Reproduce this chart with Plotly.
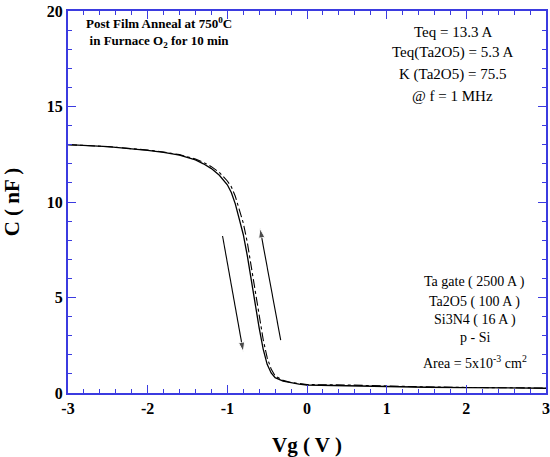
import plotly.graph_objects as go

# Forward (solid) sweep
vg_solid = [-3, -2.5, -2, -1.8, -1.6, -1.4, -1.3, -1.2, -1.1, -1.0, -0.95, -0.9, -0.85, -0.8,
            -0.75, -0.7, -0.65, -0.6, -0.55, -0.5, -0.45, -0.4, -0.3, -0.2, -0.1, 0,
            0.5, 1, 1.5, 2, 2.5, 3]
c_solid = [13.0, 12.9, 12.7, 12.6, 12.45, 12.2, 12.0, 11.75, 11.4, 10.9, 10.5, 9.9, 9.1, 8.3,
           7.2, 5.9, 4.6, 3.4, 2.3, 1.5, 1.05, 0.8, 0.62, 0.52, 0.46, 0.42,
           0.37, 0.33, 0.30, 0.28, 0.26, 0.25]

# Reverse (dash-dot) sweep
vg_dash = [-3, -2.5, -2, -1.8, -1.6, -1.4, -1.3, -1.2, -1.1, -1.0, -0.95, -0.9, -0.85, -0.8,
           -0.75, -0.7, -0.65, -0.6, -0.55, -0.5, -0.45, -0.4, -0.3, -0.2, -0.1, 0,
           0.5, 1, 1.5, 2, 2.5, 3]
c_dash = [13.0, 12.9, 12.72, 12.62, 12.48, 12.25, 12.08, 11.85, 11.55, 11.1, 10.8, 10.3, 9.6, 8.9,
          7.9, 6.6, 5.3, 4.0, 2.8, 1.85, 1.25, 0.9, 0.66, 0.55, 0.48, 0.44,
          0.42, 0.36, 0.32, 0.29, 0.27, 0.26]

# Sweep direction arrows (tail -> head)
arrow_down_x = [-1.06, -0.80]
arrow_down_y = [8.22, 2.16]
arrow_up_x = [-0.33, -0.59]
arrow_up_y = [2.77, 8.62]

x_ticks = [-3, -2, -1, 0, 1, 2, 3]
y_ticks = [0, 5, 10, 15, 20]

info_top = ["Teq = 13.3 A", "Teq(Ta2O5) = 5.3 A", "K (Ta2O5) = 75.5", "@ f = 1 MHz"]
info_bottom = ["Ta gate ( 2500 A )", "Ta2O5 ( 100 A )", "Si3N4 ( 16 A )", "p - Si",
               "Area = 5x10<sup>-3</sup> cm<sup>2</sup>"]

axis_blue = "#3b3be0"
serif = "Liberation Serif"


def tick_label(v):
    return '<span style="font-family:Liberation Serif"><b>%d</b></span>' % v


fig = go.Figure()
fig.add_trace(go.Scatter(x=vg_solid, y=c_solid, mode="lines",
                         line=dict(color="black", width=1.3), showlegend=False))
fig.add_trace(go.Scatter(x=vg_dash, y=c_dash, mode="lines",
                         line=dict(color="black", width=1.1, dash="dashdot"), showlegend=False))
for ax_, ay_ in ((arrow_down_x, arrow_down_y), (arrow_up_x, arrow_up_y)):
    fig.add_trace(go.Scatter(x=ax_, y=ay_, mode="lines+markers", showlegend=False,
                             line=dict(color="black", width=1.1),
                             marker=dict(symbol="arrow", angleref="previous", size=[0, 10], color="black")))

annotations = []
annotations.append(dict(x=0.19, y=0.945, xref="paper", yref="paper", showarrow=False, align="center",
                        xanchor="center", yanchor="middle",
                        text="<b>Post Film Anneal at 750<sup>0</sup>C<br>in Furnace O<sub>2</sub> for 10 min</b>",
                        font=dict(family=serif, size=13, color="black")))

top_y = [0.945, 0.892, 0.835, 0.777]
for txt, yy in zip(info_top, top_y):
    annotations.append(dict(x=0.805, y=yy, xref="paper", yref="paper", showarrow=False, text=txt,
                            xanchor="center", yanchor="middle",
                            font=dict(family=serif, size=15, color="black")))

bot_y = [0.291, 0.239, 0.191, 0.144, 0.08]
for txt, yy in zip(info_bottom, bot_y):
    annotations.append(dict(x=0.851, y=yy, xref="paper", yref="paper", showarrow=False, text=txt,
                            xanchor="center", yanchor="middle",
                            font=dict(family=serif, size=14, color="black")))

fig.update_layout(
    template="none",
    width=550, height=457,
    margin=dict(l=68, r=4, t=11, b=64),
    plot_bgcolor="white",
    annotations=annotations,
)

fig.update_xaxes(range=[-3, 3], tickvals=x_ticks, ticktext=[tick_label(v) for v in x_ticks],
                 ticklabeloverflow="allow",
                 showline=True, linecolor=axis_blue, linewidth=2, mirror="allticks",
                 ticks="inside", ticklen=8, tickwidth=1, tickcolor=axis_blue,
                 showgrid=False, zeroline=False,
                 tickfont=dict(size=16, color="black"),
                 minor=dict(dtick=0.2, ticks="inside", ticklen=4, tickcolor=axis_blue, tickwidth=1, showgrid=False),
                 title=dict(text="<b>Vg ( V )</b>", font=dict(family=serif, size=21, color="black")))
fig.update_yaxes(range=[0, 20], tickvals=y_ticks, ticktext=[tick_label(v) for v in y_ticks],
                 ticklabeloverflow="allow",
                 showline=True, linecolor=axis_blue, linewidth=2, mirror="allticks",
                 ticks="inside", ticklen=8, tickwidth=1, tickcolor=axis_blue,
                 showgrid=False, zeroline=False,
                 tickfont=dict(size=16, color="black"),
                 minor=dict(dtick=1, ticks="inside", ticklen=4, tickcolor=axis_blue, tickwidth=1, showgrid=False),
                 title=dict(text="<b>C ( nF )</b>", font=dict(family=serif, size=21, color="black")))

fig.write_html("out.html")
